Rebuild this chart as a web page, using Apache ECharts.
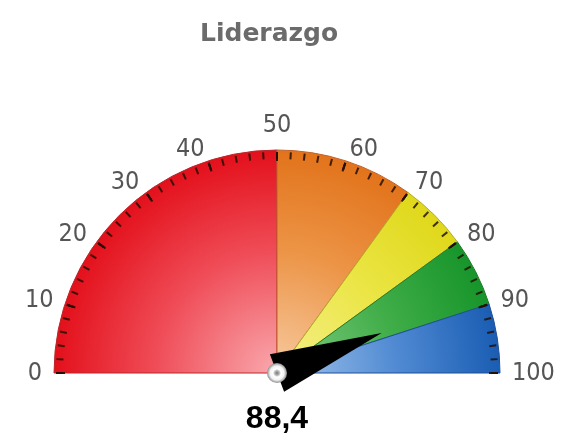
<!DOCTYPE html>
<html>
<head>
<meta charset="utf-8">
<script src="https://cdn.jsdelivr.net/npm/echarts@6/dist/echarts.min.js"></script>
<style>
  html, body { margin: 0; padding: 0; background: #fff; }
  #chart { width: 563px; height: 436px; }
</style>
</head>
<body>
<div id="chart"></div>
<script>
// gauge data
const chartTitle = "Liderazgo";
const gaugeMin = 0;
const gaugeMax = 100;
const gaugeValue = 88.4;
// colour bands: [from, to]
const bandRanges = [[0, 50], [50, 70], [70, 80], [80, 90], [90, 100]];
// light (centre) / mid / dark (rim) colours for each band
const bandLight = ["#f9a9ae", "#f7caa0", "#f4f08a", "#86cd86", "#a3c6ec"];
const bandMid = ["#ef4c57", "#ec9446", "#ebe545", "#40ad48", "#4f89d2"];
const bandDark = ["#e3101b", "#e2731b", "#dfd81a", "#17952a", "#1a5db3"];
const bandEdge = ["#b8282a", "#c0622a", "#b7a92a", "#1f7a28", "#1f4f95"];

const cx = 277;
const cy = 373;
const radius = 223;

function fillFor(i) {
  return new echarts.graphic.RadialGradient(cx, cy, radius, [
    { offset: 0, color: bandLight[i] },
    { offset: 0.55, color: bandMid[i] },
    { offset: 1, color: bandDark[i] },
  ], true);
}

let bandData = bandRanges.map((r, i) => ({
  value: r[1] - r[0],
  itemStyle: { color: fillFor(i), borderColor: bandEdge[i], borderWidth: 1 },
}));
// bottom half of the pie stays empty
bandData.push({
  value: gaugeMax - gaugeMin,
  itemStyle: { color: "rgba(0,0,0,0)", borderWidth: 0 },
});

// labels sit outside the rim: left side right-aligned, right side left-aligned
const labelFont = { fontFamily: "DejaVu Sans Condensed", fontSize: 25, color: "#555", lineHeight: 1 };
const labelMid = (gaugeMin + gaugeMax) / 2;

let dom = document.getElementById("chart");
let myChart = echarts.init(dom, null, { renderer: "canvas" });

let option = {
  animation: false,
  title: {
    text: chartTitle,
    left: 195,
    top: 17,
    textStyle: {
      fontFamily: "DejaVu Sans",
      fontSize: 25,
      fontWeight: "bold",
      color: "#6b6b6b",
    },
  },
  series: [
    {
      type: "pie",
      z: 1,
      silent: true,
      center: [cx, cy],
      radius: [0, radius],
      startAngle: 180,
      clockwise: true,
      label: { show: false },
      labelLine: { show: false },
      emphasis: { disabled: true },
      data: bandData,
    },
    {
      type: "gauge",
      z: 5,
      center: [cx, cy],
      radius: radius,
      startAngle: 180,
      endAngle: 0,
      min: gaugeMin,
      max: gaugeMax,
      splitNumber: 10,
      axisLine: { show: false, lineStyle: { width: 0 } },
      splitLine: {
        distance: 2,
        length: 9,
        lineStyle: { color: "rgba(35,15,5,0.9)", width: 2 },
      },
      axisTick: {
        distance: 2,
        length: 7,
        splitNumber: 5,
        lineStyle: { color: "rgba(35,15,5,0.85)", width: 2 },
      },
      axisLabel: {
        distance: -24,
        color: "#555",
        fontFamily: "DejaVu Sans Condensed",
        fontSize: 25,
        formatter: (v) => {
          if (v < labelMid) return "{l|" + v + "}";
          if (v > labelMid) return "{r|" + v + "}";
          return "{c|" + v + "}";
        },
        rich: {
          l: Object.assign({ width: 1, align: "right", verticalAlign: "middle" }, labelFont),
          r: Object.assign({ width: 1, align: "left", verticalAlign: "middle" }, labelFont),
          c: Object.assign({ align: "center", verticalAlign: "bottom" }, labelFont),
        },
      },
      pointer: {
        icon: "triangle",
        length: 112,
        width: 40,
        itemStyle: { color: "#000" },
      },
      anchor: {
        show: true,
        showAbove: true,
        size: 20,
        itemStyle: {
          color: new echarts.graphic.RadialGradient(0.5, 0.5, 0.5, [
            { offset: 0, color: "#777" },
            { offset: 0.25, color: "#bbb" },
            { offset: 0.4, color: "#fff" },
            { offset: 0.7, color: "#f2f2f2" },
            { offset: 1, color: "#8a8a8a" },
          ]),
        },
      },
      title: { show: false },
      detail: {
        offsetCenter: [0, 46],
        fontFamily: "Liberation Sans",
        fontSize: 32,
        fontWeight: "bold",
        color: "#000",
        formatter: (v) => v.toFixed(1).replace(".", ","),
      },
      data: [{ value: gaugeValue }],
    },
  ],
};

myChart.setOption(option);
</script>
</body>
</html>
